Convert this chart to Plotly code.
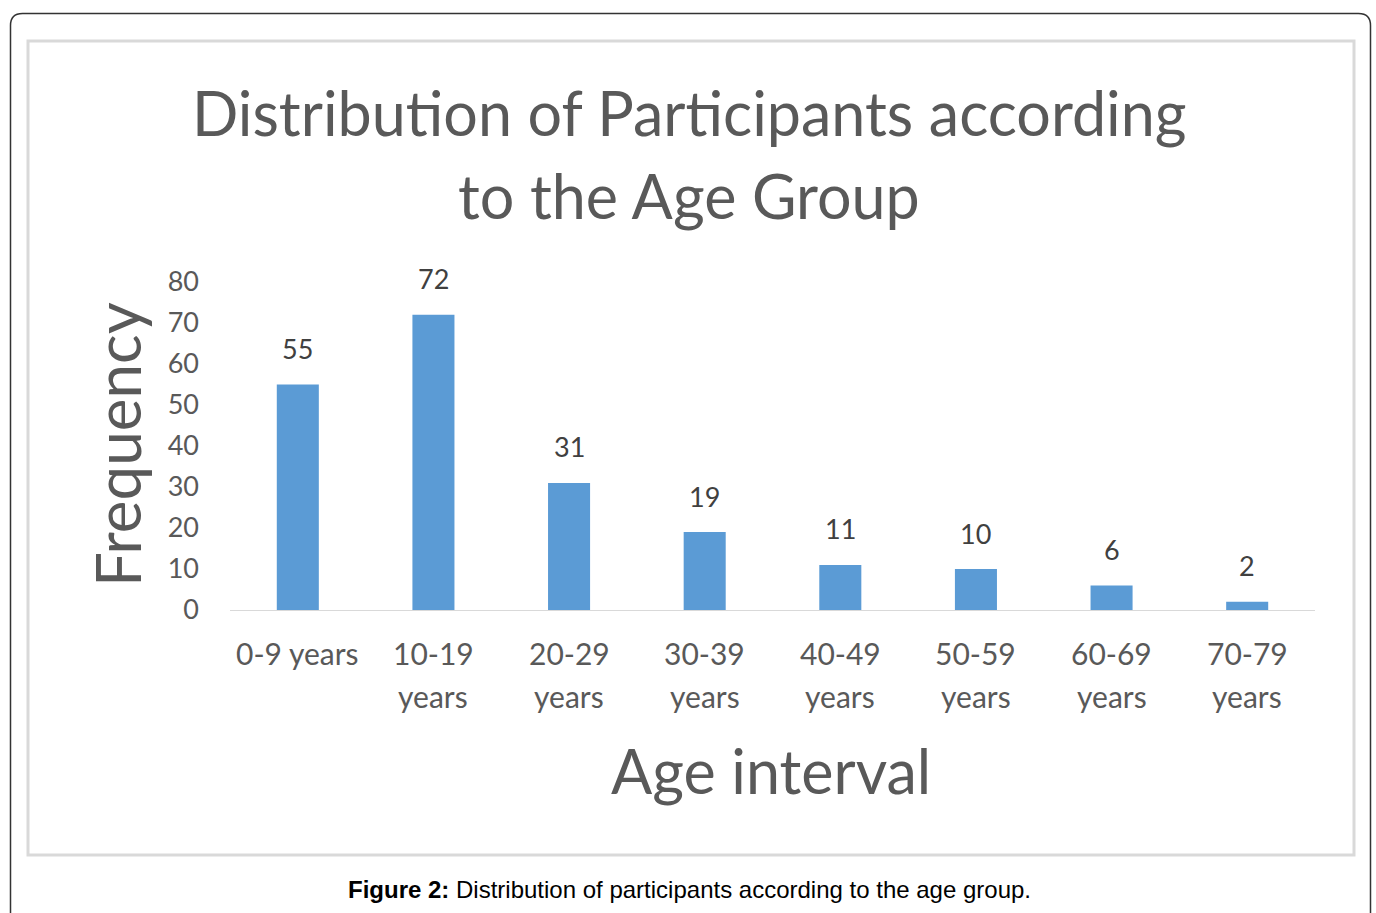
import plotly.graph_objects as go

categories = ["0-9 years", "10-19 years", "20-29 years", "30-39 years",
              "40-49 years", "50-59 years", "60-69 years", "70-79 years"]
tick_line1 = ["0-9 years", "10-19", "20-29", "30-39", "40-49", "50-59", "60-69", "70-79"]
tick_line2 = ["", "years", "years", "years", "years", "years", "years", "years"]
frequency = [55, 72, 31, 19, 11, 10, 6, 2]
y_ticks = [0, 10, 20, 30, 40, 50, 60, 70, 80]

W, H = 1376, 913
L, R, T, B = 230, 1315, 282, 610  # plot area in pixels


def px(x):
    return (x - L) / (R - L)


def py(y):
    return (B - y) / (B - T)


FONT = "Lato"
GREY = "#595959"

fig = go.Figure()
fig.add_trace(go.Bar(
    x=categories, y=frequency,
    marker=dict(color="#5b9bd5", line=dict(width=0)),
    cliponaxis=False,
    width=0.31,
))

# value labels above bars
for c, v in zip(categories, frequency):
    fig.add_annotation(x=c, y=v, xref="x", yref="y", text=str(v), showarrow=False,
                       yanchor="middle", yshift=36,
                       font=dict(family=FONT, size=27, color="#404040"))

fig.update_layout(
    width=W, height=H,
    margin=dict(l=L, r=W - R, t=T, b=H - B),
    paper_bgcolor="white", plot_bgcolor="white",
    showlegend=False,
    xaxis=dict(showticklabels=False, showgrid=False, showline=True,
               linecolor="#d9d9d9", linewidth=1, ticks="", zeroline=False),
    yaxis=dict(range=[0, 80], tickvals=y_ticks, showgrid=False, showline=False,
               zeroline=False, ticks="", ticklabelstandoff=30,
               tickfont=dict(family=FONT, size=27, color=GREY)),
)

# x tick labels (two lines) anchored to categories
for c, a, b in zip(categories, tick_line1, tick_line2):
    fig.add_annotation(x=c, xref="x", y=0, yref="paper", yanchor="middle",
                       yshift=-(653 - 610), text=a, showarrow=False,
                       font=dict(family=FONT, size=30, color=GREY))
    if b:
        fig.add_annotation(x=c, xref="x", y=0, yref="paper", yanchor="middle",
                           yshift=-(696 - 610), text=b, showarrow=False,
                           font=dict(family=FONT, size=30, color=GREY))

# title
fig.add_annotation(x=px(689), y=py(112), xref="paper", yref="paper", xanchor="center",
                   text="Distribution of Participants according", showarrow=False,
                   font=dict(family=FONT, size=61, color=GREY), yanchor="middle")
fig.add_annotation(x=px(689), y=py(195), xref="paper", yref="paper", xanchor="center",
                   text="to the Age Group", showarrow=False,
                   font=dict(family=FONT, size=61, color=GREY), yanchor="middle")
# axis titles
fig.add_annotation(x=px(117), y=py(445), xref="paper", yref="paper",
                   xanchor="center", yanchor="middle",
                   text="Frequency", textangle=-90, showarrow=False,
                   font=dict(family=FONT, size=62, color=GREY))
fig.add_annotation(x=px(771), y=py(770), xref="paper", yref="paper", xanchor="center",
                   text="Age interval", showarrow=False,
                   font=dict(family=FONT, size=61, color=GREY), yanchor="middle")
# caption
fig.add_annotation(x=px(689), y=py(889), xref="paper", yref="paper", xanchor="center",
                   text="<b>Figure 2:</b> Distribution of participants according to the age group.",
                   showarrow=False, yanchor="middle",
                   font=dict(family="Liberation Sans", size=24, color="black"))

# inner light border
fig.add_shape(type="rect", xref="paper", yref="paper",
              x0=px(28), x1=px(1354), y0=py(41), y1=py(855),
              line=dict(color="#d9d9d9", width=3), layer="below")

# outer rounded border
r = 12
x0, x1, y0, y1 = 10.5, 1370.5, 13.5, 930
path = (f"M {px(x0)},{py(y1)} L {px(x0)},{py(y0 + r)} "
        f"Q {px(x0)},{py(y0)} {px(x0 + r)},{py(y0)} "
        f"L {px(x1 - r)},{py(y0)} Q {px(x1)},{py(y0)} {px(x1)},{py(y0 + r)} "
        f"L {px(x1)},{py(y1)}")
fig.add_shape(type="path", xref="paper", yref="paper", path=path,
              line=dict(color="#333333", width=1.5), layer="below")

fig.write_html("out.html")
